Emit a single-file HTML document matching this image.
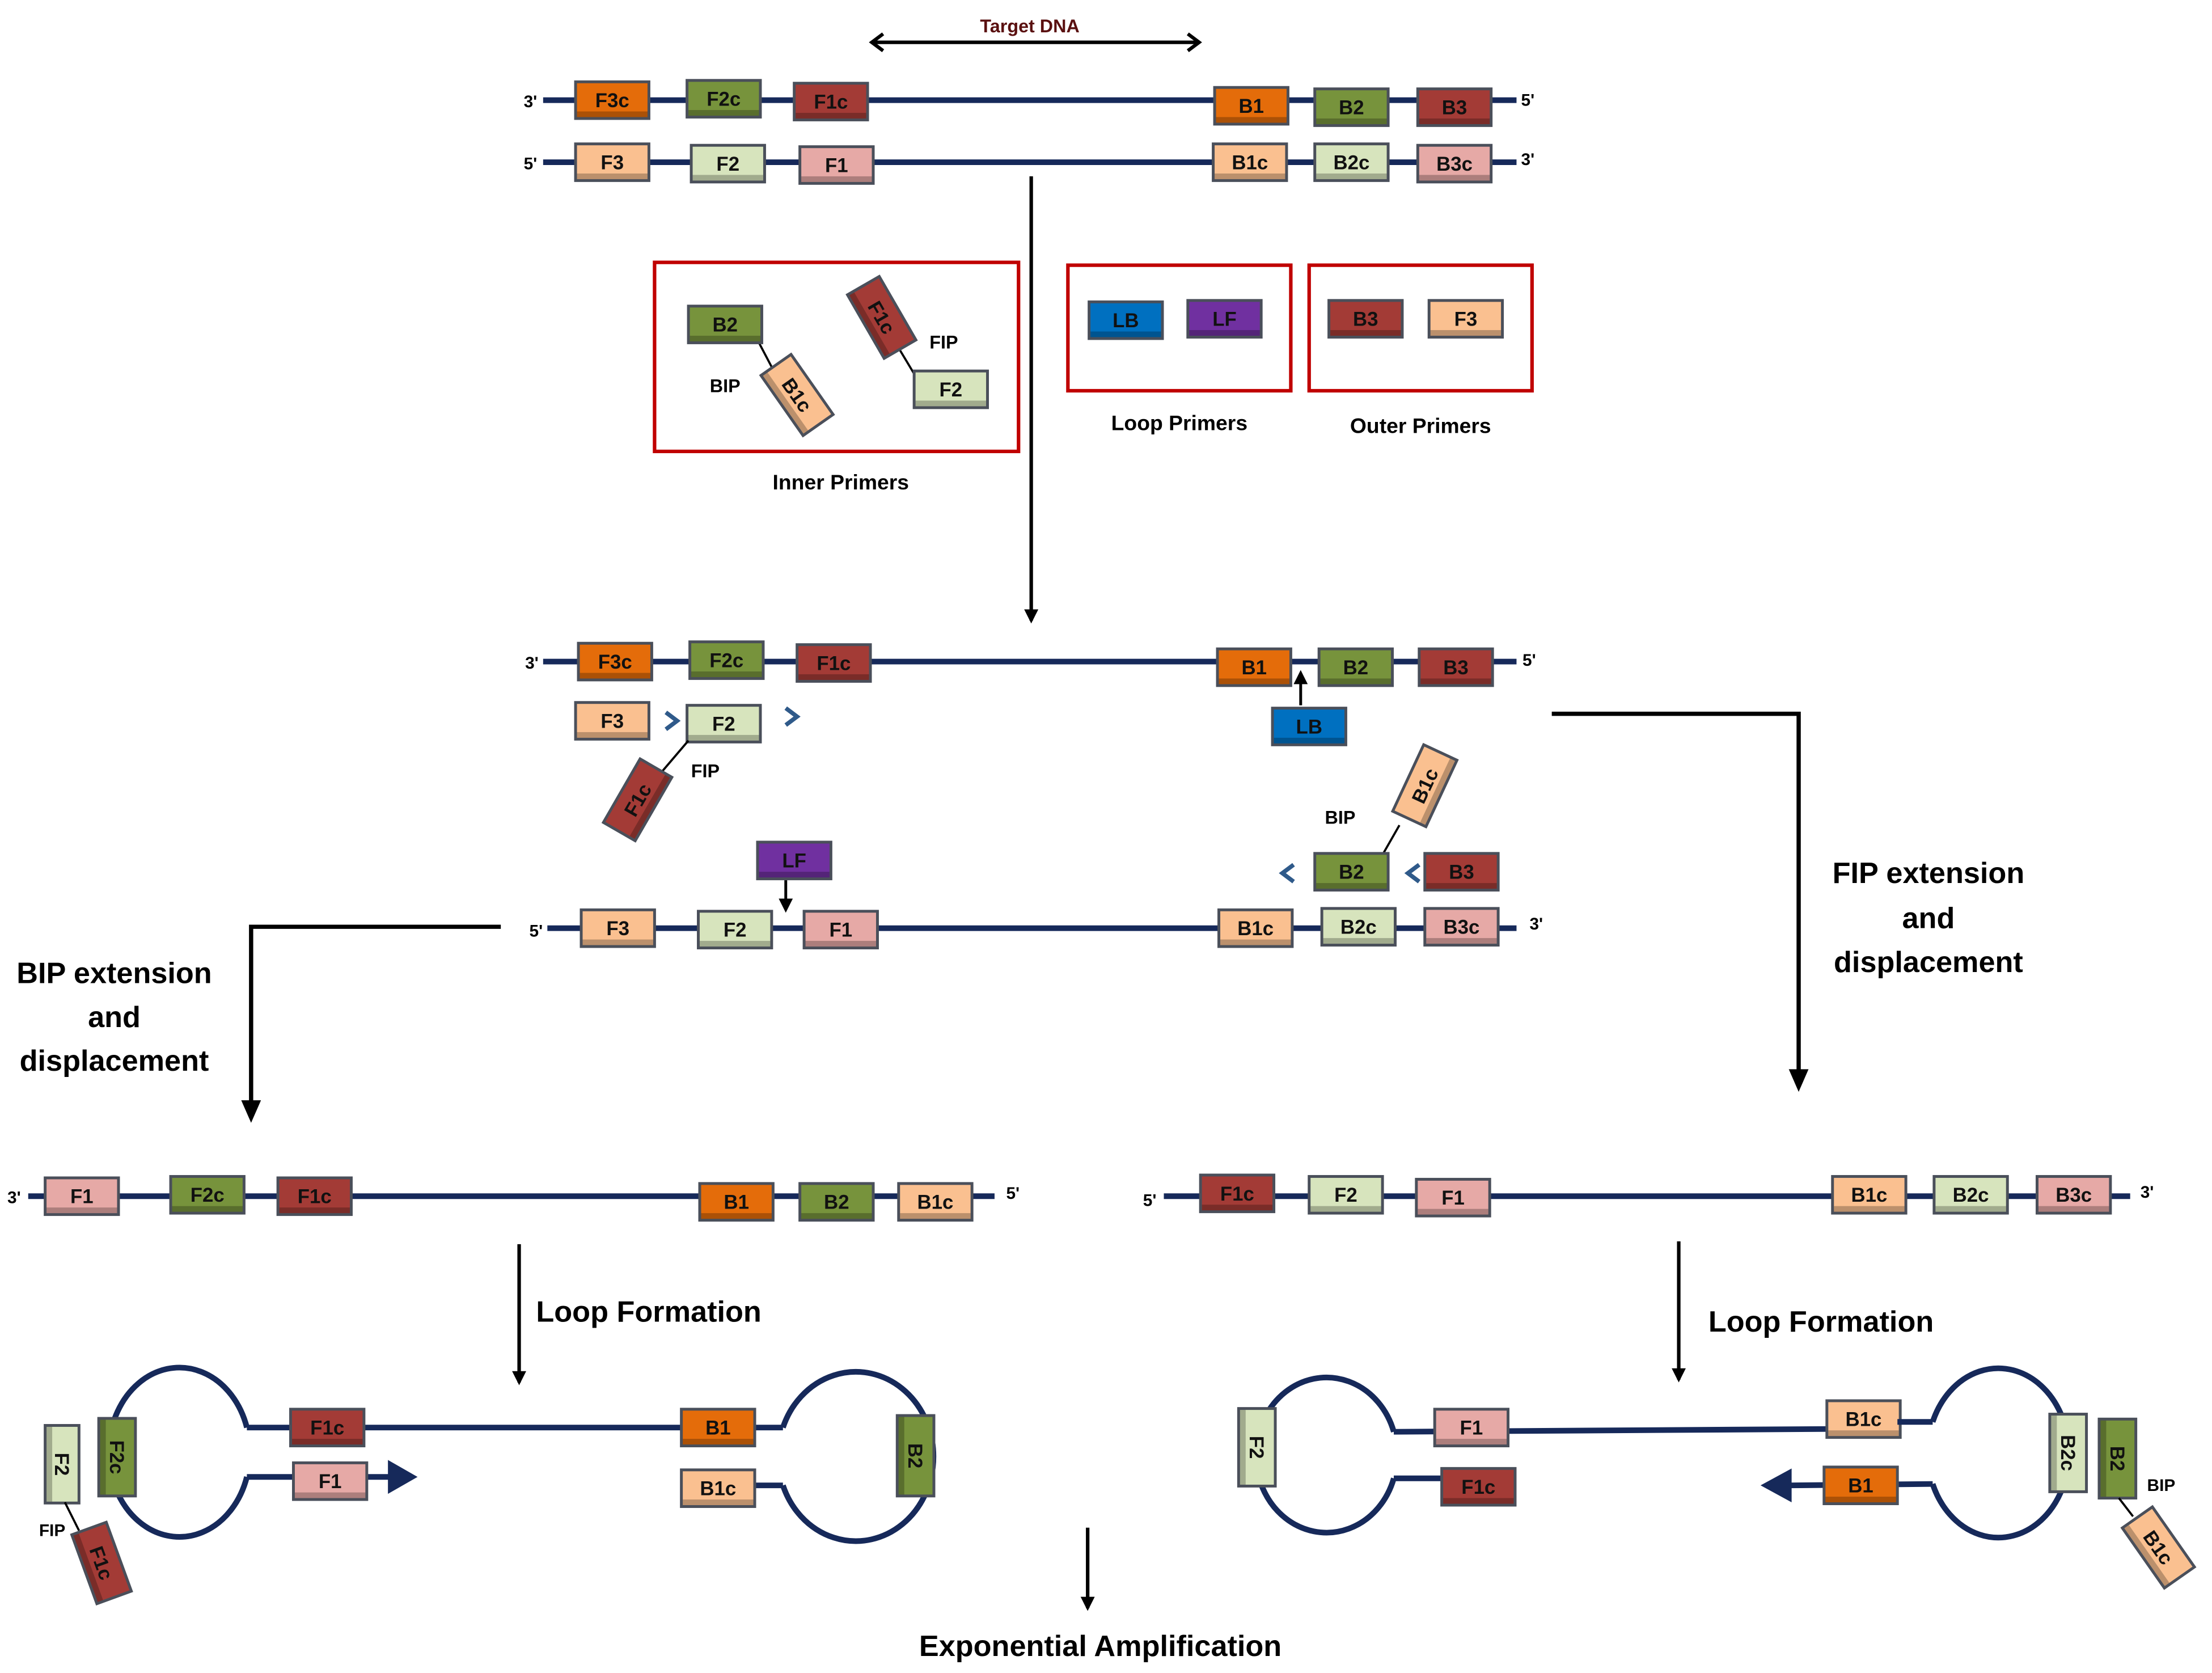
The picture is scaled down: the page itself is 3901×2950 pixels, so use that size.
<!DOCTYPE html>
<html><head><meta charset="utf-8"><style>
html,body{margin:0;padding:0;background:#fff;}
svg{display:block;}
text{font-family:"Liberation Sans",sans-serif;}
</style></head><body>
<svg id="s" xmlns="http://www.w3.org/2000/svg" width="3901" height="2950" viewBox="0 0 1568 1186" preserveAspectRatio="none">
<defs>
<marker id="ah" markerWidth="10" markerHeight="10" refX="8" refY="5" orient="auto" markerUnits="userSpaceOnUse"><path d="M0,0 L10,5 L0,10 Z" fill="#000"/></marker>
</defs>
<g id="g" stroke-linecap="butt"></g>
</svg>
<script>
var NS="http://www.w3.org/2000/svg",G=document.getElementById("g");
function el(t,a,txt){var e=document.createElementNS(NS,t);for(var k in a)e.setAttribute(k,a[k]);if(txt!==undefined)e.textContent=txt;G.appendChild(e);return e;}
var C={o:"#e46c0a",g:"#77933c",r:"#a33b36",p:"#fac090",lg:"#d7e4bd",pk:"#e6a9a6",b:"#0070c0",pu:"#7030a0"};
var N="#16295a";
function ln(x1,y1,x2,y2,w,c,m){var a={x1:x1,y1:y1,x2:x2,y2:y2,stroke:c||N,"stroke-width":w||4};if(m)a["marker-end"]="url(#ah)";el("line",a);}
function box(cx,cy,col,lab,rot,w,h){w=w||52;h=h||26;
 var g=document.createElementNS(NS,"g");g.setAttribute("transform","translate("+cx+","+cy+") rotate("+(rot||0)+")");G.appendChild(g);
 var r=document.createElementNS(NS,"rect");r.setAttribute("x",-w/2);r.setAttribute("y",-h/2);r.setAttribute("width",w);r.setAttribute("height",h);r.setAttribute("fill",C[col]);r.setAttribute("stroke","#4a4f5a");r.setAttribute("stroke-width","2");g.appendChild(r);
 var b=document.createElementNS(NS,"rect");b.setAttribute("x",-w/2+1);b.setAttribute("y",h/2-5);b.setAttribute("width",w-2);b.setAttribute("height",4);b.setAttribute("fill","rgba(0,0,0,0.25)");g.appendChild(b);
 var t=document.createElementNS(NS,"text");t.setAttribute("x",0);t.setAttribute("y",5);t.setAttribute("text-anchor","middle");t.setAttribute("font-size","14");t.setAttribute("font-weight","bold");t.setAttribute("fill","#111");t.textContent=lab;g.appendChild(t);}
function tx(x,y,s,sz,anc,bold,col){el("text",{x:x,y:y,"font-size":sz||13,"text-anchor":anc||"middle","font-weight":bold?"bold":"normal",fill:col||"#000"},s);}
function chev(x,y,dir){var d=dir>0?"M"+(x-5)+","+(y-6)+" L"+(x+3)+","+y+" L"+(x-5)+","+(y+6):"M"+(x+5)+","+(y-6)+" L"+(x-3)+","+y+" L"+(x+5)+","+(y+6);el("path",{d:d,fill:"none",stroke:"#2f5a8a","stroke-width":3});}

/* Top */
ln(618,30,850,30,2.5,"#000");
el("path",{d:"M626,24 L618,30 L626,36",fill:"none",stroke:"#000","stroke-width":2.5});
el("path",{d:"M842,24 L850,30 L842,36",fill:"none",stroke:"#000","stroke-width":2.5});
tx(730,23,"Target DNA",13,"middle",true,"#5a1010");
ln(385,71,1075,71);tx(376,76,"3'",12,"middle",true);tx(1083,75,"5'",12,"middle",true);
box(434,71,"o","F3c");box(513,70,"g","F2c");box(589,72,"r","F1c");box(887,75,"o","B1");box(958,76,"g","B2");box(1031,76,"r","B3");
ln(385,115,1075,115);tx(376,120,"5'",12,"middle",true);tx(1083,117,"3'",12,"middle",true);
box(434,115,"p","F3");box(516,116,"lg","F2");box(593,117,"pk","F1");box(886,115,"p","B1c");box(958,115,"lg","B2c");box(1031,116,"pk","B3c");
ln(731,125,731,440,2.5,"#000",true);
/* primer boxes */
el("rect",{x:464,y:186,width:258,height:134,fill:"none",stroke:"#c00000","stroke-width":2.5});
ln(538,243,548,262,1.5,"#000");box(514,230,"g","B2");box(565,280,"p","B1c",55);tx(514,278,"BIP",13,"middle",true);
ln(636,245,648,265,1.5,"#000");box(625,225,"r","F1c",60);box(674,276,"lg","F2");tx(669,247,"FIP",13,"middle",true);
tx(596,347,"Inner Primers",15,"middle",true);
el("rect",{x:757,y:188,width:158,height:89,fill:"none",stroke:"#c00000","stroke-width":2.5});
box(798,227,"b","LB");box(868,226,"pu","LF");tx(836,305,"Loop  Primers",15,"middle",true);
el("rect",{x:928,y:188,width:158,height:89,fill:"none",stroke:"#c00000","stroke-width":2.5});
box(968,226,"r","B3");box(1039,226,"p","F3");tx(1007,307,"Outer  Primers",15,"middle",true);

/* Middle */
ln(385,469,1075,469);tx(377,474,"3'",12,"middle",true);tx(1084,472,"5'",12,"middle",true);
box(436,469,"o","F3c");box(515,468,"g","F2c");box(591,470,"r","F1c");box(889,473,"o","B1");box(961,473,"g","B2");box(1032,473,"r","B3");
ln(922,500,922,477,2,"#000",true);box(928,515,"b","LB");
box(434,511,"p","F3");chev(477,511,1);box(513,513,"lg","F2");chev(562,508,1);
ln(488,525,465,552,1.5,"#000");box(452,567,"r","F1c",-60);tx(500,551,"FIP",13,"middle",true);
ln(992,585,980,606,1.5,"#000");box(1010,557,"p","B1c",-65);tx(950,584,"BIP",13,"middle",true);
chev(912,619,-1);box(958,618,"g","B2");chev(1001,619,-1);box(1036,618,"r","B3");
box(563,610,"pu","LF");ln(557,624,557,645,2,"#000",true);
ln(388,658,1075,658);tx(380,664,"5'",12,"middle",true);tx(1089,659,"3'",12,"middle",true);
box(438,658,"p","F3");box(521,659,"lg","F2");box(596,659,"pk","F1");box(890,658,"p","B1c");box(963,657,"lg","B2c");box(1036,657,"pk","B3c");
/* connectors */
el("path",{d:"M355,657 L178,657 L178,785",fill:"none",stroke:"#000","stroke-width":3});
el("path",{d:"M171,780 L178,796 L185,780 Z",fill:"#000"});
el("path",{d:"M1100,506 L1275,506 L1275,763",fill:"none",stroke:"#000","stroke-width":3});
el("path",{d:"M1268,758 L1275,774 L1282,758 Z",fill:"#000"});
tx(81,697,"BIP extension",21,"middle",true);tx(81,728,"and",21,"middle",true);tx(81,759,"displacement",21,"middle",true);
tx(1367,626,"FIP extension",21,"middle",true);tx(1367,658,"and",21,"middle",true);tx(1367,689,"displacement",21,"middle",true);

/* Lower-left strand */
ln(20,848,705,848);tx(10,853,"3'",12,"middle",true);tx(718,850,"5'",12,"middle",true);
box(58,848,"pk","F1");box(147,847,"g","F2c");box(223,848,"r","F1c");box(522,852,"o","B1");box(593,852,"g","B2");box(663,852,"p","B1c");
/* Lower-right strand */
ln(825,848,1510,848);tx(815,855,"5'",12,"middle",true);tx(1522,849,"3'",12,"middle",true);
box(877,846,"r","F1c");box(954,847,"lg","F2");box(1030,849,"pk","F1");box(1325,847,"p","B1c");box(1397,847,"lg","B2c");box(1470,847,"pk","B3c");
ln(368,882,368,980,2.5,"#000",true);tx(380,937,"Loop Formation",21,"start",true);
ln(1190,880,1190,978,2.5,"#000",true);tx(1211,944,"Loop Formation",21,"start",true);

/* Loop left */
el("path",{d:"M175,1012 A50,60 0 1 0 175,1047",fill:"none",stroke:N,"stroke-width":4});
ln(175,1012,555,1012);ln(175,1047,280,1047);
el("path",{d:"M275,1035 L296,1047 L275,1059 Z",fill:N});
box(232,1012,"r","F1c");box(234,1050,"pk","F1");box(509,1012,"o","B1");
el("path",{d:"M555,1012 A55,60 0 1 1 555,1053",fill:"none",stroke:N,"stroke-width":4});
ln(535,1053,555,1053);box(509,1055,"p","B1c");
box(83,1033,"g","F2c",90,55,26);box(44,1038,"lg","F2",90,55,24);
ln(46,1065,56,1085,1.5,"#000");tx(37,1089,"FIP",12,"middle",true);box(72,1108,"r","F1c",70,52,26);
box(649,1032,"g","B2",90,57,26);
/* Loop right */
el("path",{d:"M988,1015 A50,55 0 1 0 988,1048",fill:"none",stroke:N,"stroke-width":4});
ln(988,1015,1300,1013);ln(988,1048,1022,1048);
box(891,1026,"lg","F2",90,55,26);box(1043,1012,"pk","F1");box(1321,1006,"p","B1c");box(1048,1054,"r","F1c");
el("path",{d:"M1370,1008 A50,60 0 1 1 1370,1052",fill:"none",stroke:N,"stroke-width":4});
ln(1345,1008,1370,1008);ln(1268,1053,1370,1052);
el("path",{d:"M1270,1041 L1248,1053 L1270,1065 Z",fill:N});
box(1319,1053,"o","B1");
box(1466,1030,"lg","B2c",90,55,26);box(1501,1034,"g","B2",90,56,26);
ln(1502,1062,1512,1075,1.5,"#000");tx(1532,1057,"BIP",12,"middle",true);box(1530,1097,"p","B1c",55,52,26);

ln(771,1083,771,1140,2.5,"#000",true);
tx(780,1174,"Exponential Amplification",21,"middle",true);
</script>
</body></html>
